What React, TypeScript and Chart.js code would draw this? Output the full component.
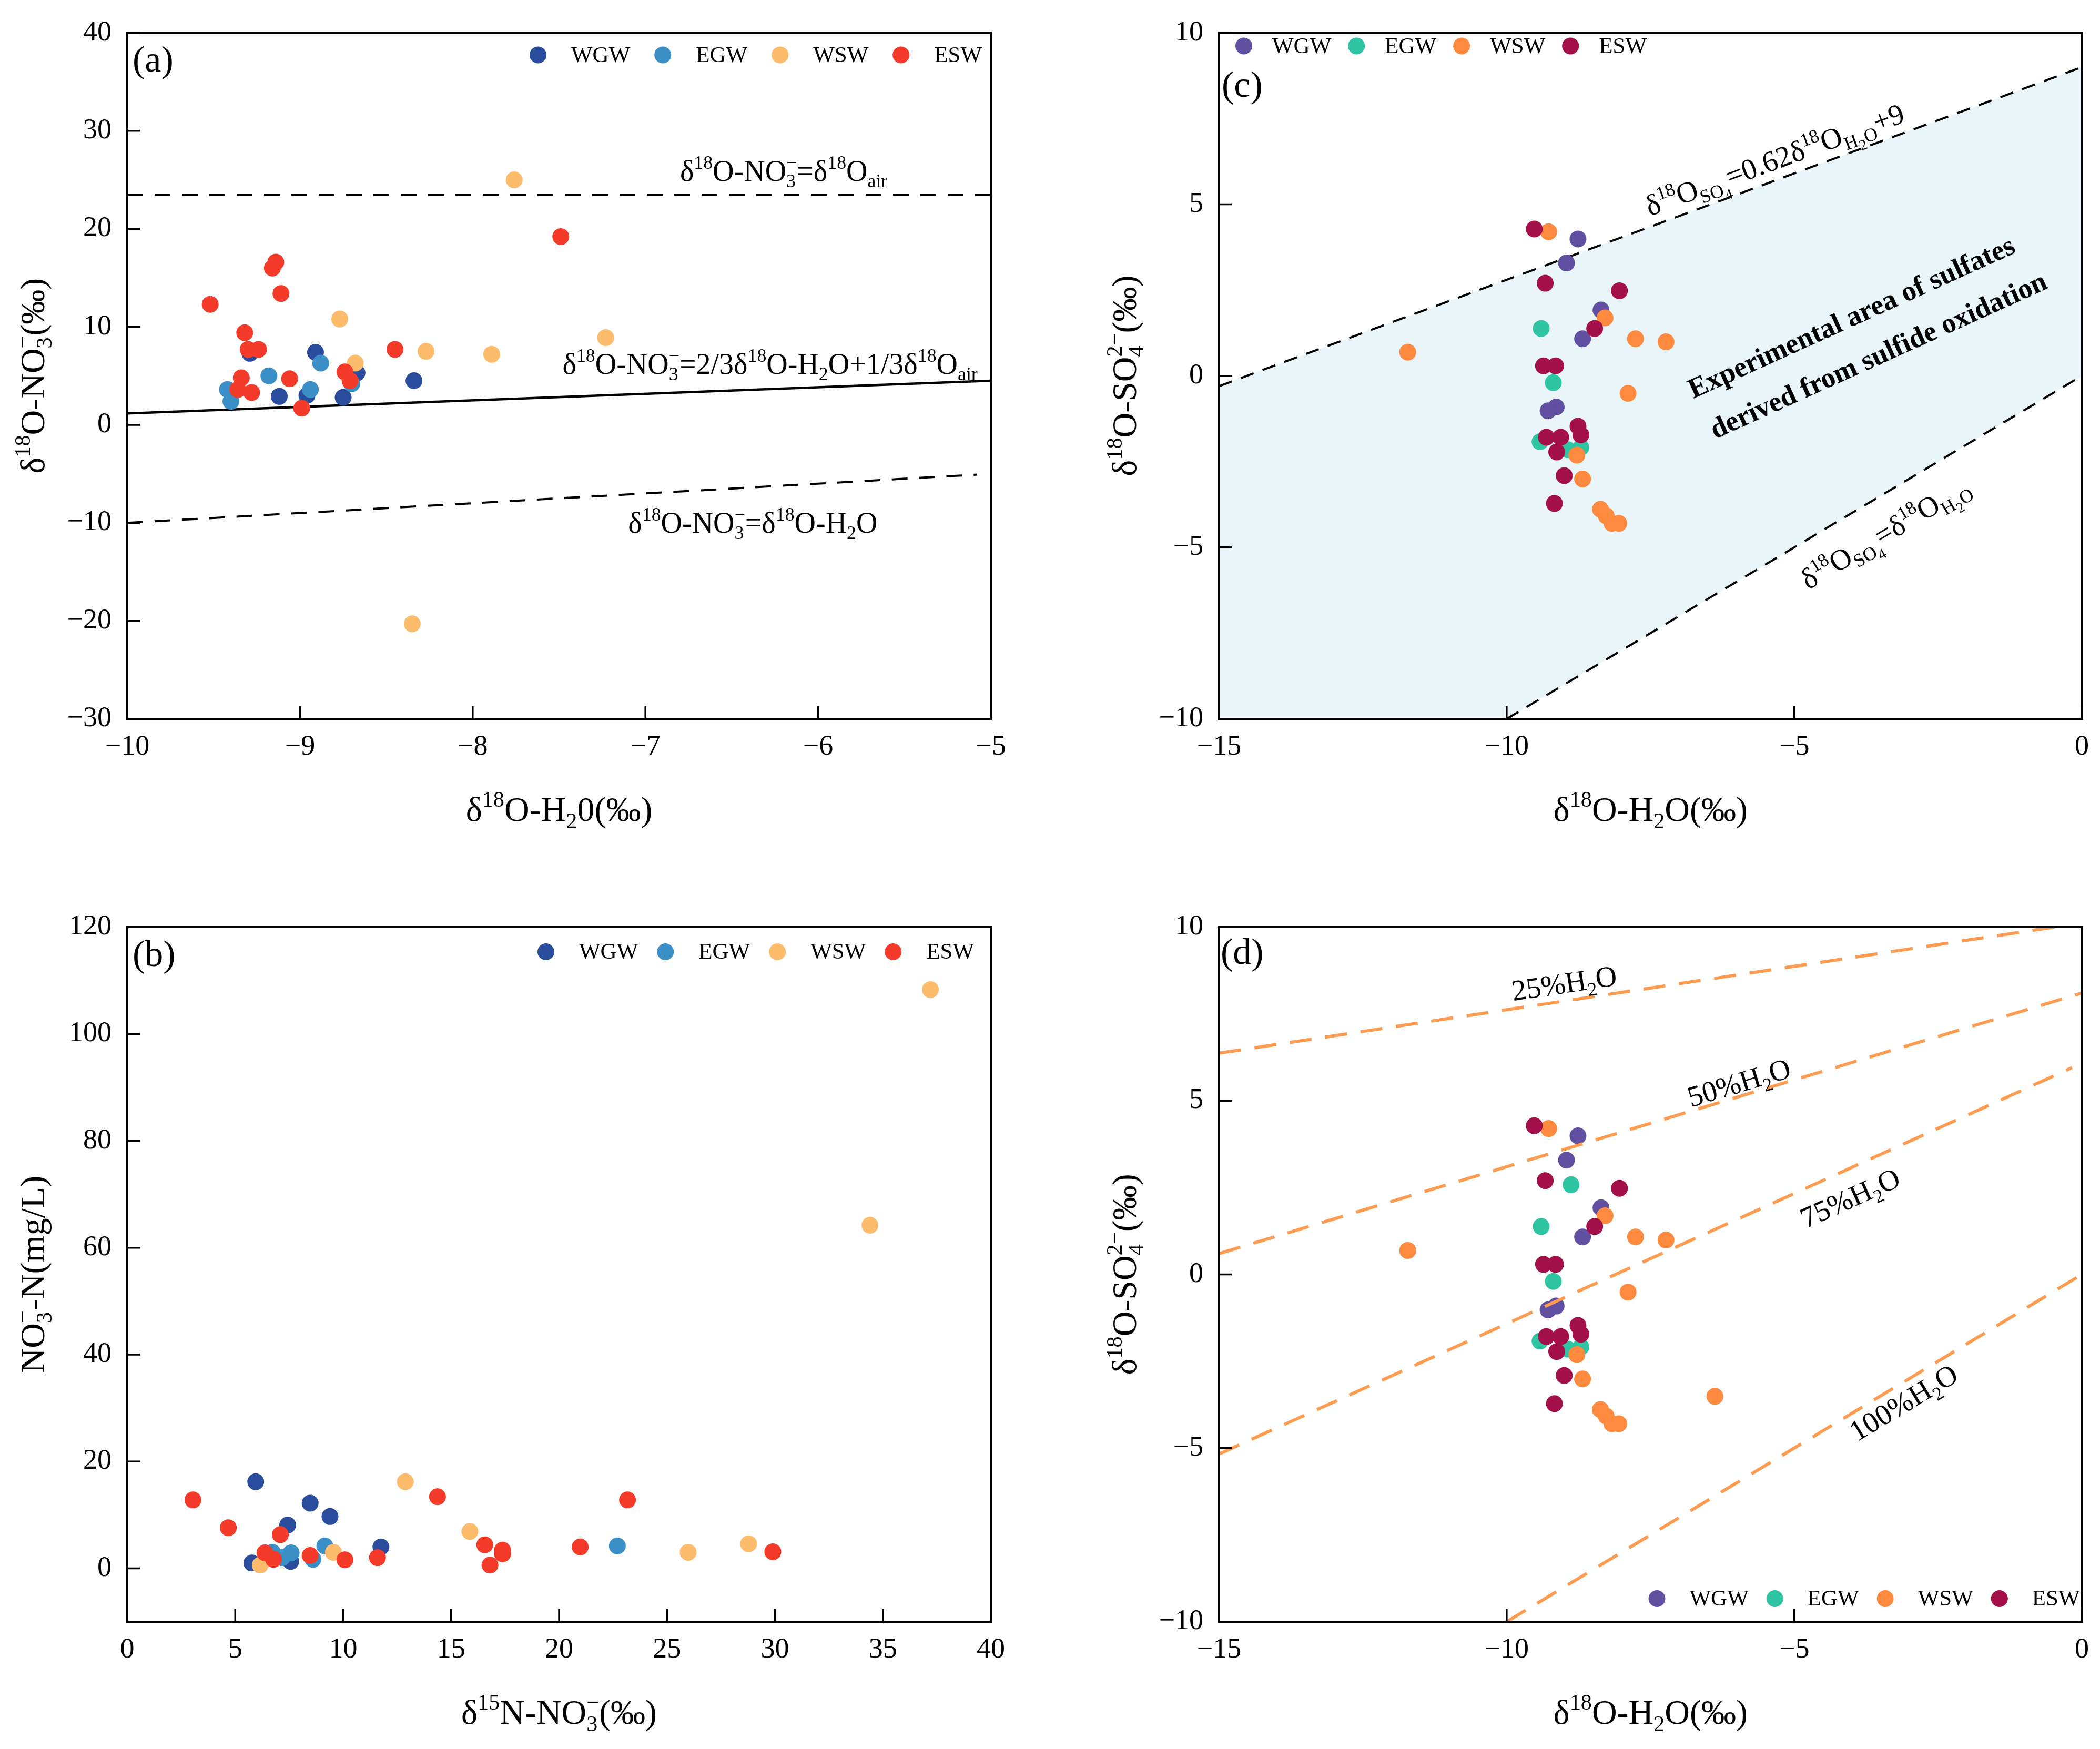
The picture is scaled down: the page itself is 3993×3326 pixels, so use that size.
import React, { useEffect, useRef } from 'react';
import { Chart, registerables } from 'chart.js';

Chart.register(...registerables);

const SERIF = '"Liberation Serif", "Times New Roman", Times, serif';
const TICK_SIZE = 54;
const TITLE_SIZE = 66;
const NOTE_SIZE = 56;
const LEGEND_SIZE = 43;
const LABEL_SIZE = 70;

type Pt = [number, number];

// ---------------- Panel (a): δ18O-H2O vs δ18O-NO3 ----------------
const A_WGW: Pt[] = [[-8.91, 7.4], [-9.29, 7.3], [-9.12, 2.9], [-8.96, 3.0], [-8.75, 2.8], [-8.67, 5.3], [-8.34, 4.5]];
const A_EGW: Pt[] = [[-9.42, 3.6], [-9.4, 2.4], [-9.18, 5.0], [-8.88, 6.3], [-8.94, 3.6], [-8.7, 4.2]];
const A_WSW: Pt[] = [[-7.76, 25.0], [-8.77, 10.8], [-8.68, 6.3], [-8.27, 7.5], [-7.89, 7.2], [-7.23, 8.9], [-8.35, -20.3]];
const A_ESW: Pt[] = [
  [-9.52, 12.3], [-9.14, 16.6], [-9.16, 16.0], [-9.11, 13.4], [-9.32, 9.4], [-9.3, 7.7], [-9.24, 7.7], [-9.34, 4.8],
  [-9.36, 3.6], [-9.28, 3.3], [-9.06, 4.7], [-8.99, 1.7], [-8.74, 5.4], [-8.71, 4.5], [-8.45, 7.7], [-7.49, 19.2],
];
const O_AIR = 23.5;

// ---------------- Panel (b): δ15N-NO3 vs NO3-N ----------------
const B_WGW: Pt[] = [[5.95, 16.2], [8.47, 12.2], [9.39, 9.7], [7.43, 8.1], [11.75, 4.0], [5.77, 1.0], [7.57, 1.3]];
const B_EGW: Pt[] = [[6.72, 3.0], [7.17, 2.0], [7.59, 2.9], [8.6, 1.7], [9.15, 4.2], [22.7, 4.2]];
const B_WSW: Pt[] = [[37.2, 108.3], [34.4, 64.2], [12.88, 16.2], [15.87, 6.9], [6.16, 0.6], [9.55, 3.0], [25.98, 3.0], [28.78, 4.6]];
const B_ESW: Pt[] = [
  [3.04, 12.8], [4.68, 7.6], [7.09, 6.3], [6.38, 2.9], [6.77, 1.7], [8.47, 2.4], [10.08, 1.6], [11.59, 2.0],
  [14.37, 13.4], [16.56, 4.4], [17.38, 3.4], [17.38, 2.7], [16.8, 0.6], [20.98, 4.0], [23.17, 12.8], [29.9, 3.1],
];
const B_Y_TICKS = [0, 20, 40, 60, 80, 100, 120];

// ---------------- Panel (c): δ18O-H2O vs δ18O-SO4 ----------------
const C_WGW: Pt[] = [[-8.76, 3.99], [-8.96, 3.29], [-8.36, 1.92], [-8.68, 1.08], [-9.14, -0.91], [-9.28, -1.02]];
const C_EGW: Pt[] = [[-9.4, 1.38], [-9.19, -0.2], [-9.42, -1.92], [-8.94, -2.15], [-8.71, -2.09]];
const C_WSW: Pt[] = [
  [-9.27, 4.2], [-11.72, 0.69], [-8.29, 1.69], [-7.76, 1.08], [-7.23, 0.99], [-7.89, -0.51],
  [-8.78, -2.31], [-8.68, -3.01], [-8.37, -3.89], [-8.27, -4.08], [-8.17, -4.3], [-8.05, -4.3],
];
const C_ESW: Pt[] = [
  [-9.52, 4.28], [-9.33, 2.7], [-8.04, 2.48], [-8.47, 1.38], [-9.36, 0.29], [-9.15, 0.29], [-8.76, -1.47],
  [-8.71, -1.72], [-9.31, -1.79], [-9.06, -1.79], [-9.13, -2.22], [-9.0, -2.91], [-9.17, -3.72],
];
// sulfate lines: δ18O_SO4 = 0.62 δ18O_H2O + 9 and δ18O_SO4 = δ18O_H2O
const C_UPPER = { m: 0.62, b: 9 };
const C_LOWER = { m: 1, b: 0 };

// ---------------- Panel (d) ----------------
const D_WGW: Pt[] = [[-8.76, 3.99], [-8.96, 3.29], [-8.36, 1.92], [-8.68, 1.08], [-9.14, -0.91], [-9.28, -1.02]];
const D_EGW: Pt[] = [[-9.4, 1.38], [-8.88, 2.58], [-9.19, -0.2], [-9.42, -1.92], [-8.94, -2.15], [-8.71, -2.09]];
const D_WSW: Pt[] = [
  [-9.27, 4.2], [-11.72, 0.69], [-8.29, 1.69], [-7.76, 1.08], [-7.23, 0.99], [-7.89, -0.51],
  [-8.78, -2.31], [-8.68, -3.01], [-8.37, -3.89], [-8.27, -4.08], [-8.17, -4.3], [-8.05, -4.3], [-6.38, -3.51],
];
const D_ESW: Pt[] = [
  [-9.52, 4.28], [-9.33, 2.7], [-8.04, 2.48], [-8.47, 1.38], [-9.36, 0.29], [-9.15, 0.29], [-8.76, -1.47],
  [-8.71, -1.72], [-9.31, -1.79], [-9.06, -1.79], [-9.13, -2.22], [-9.0, -2.91], [-9.17, -3.72],
];
// mixing lines (slope, intercept, x-start, x-end)
const D_MIX_LABELS = ['25%H_{2}O', '50%H_{2}O', '75%H_{2}O', '100%H_{2}O'];
const D_MIX_SLOPES = [0.25, 0.5, 0.75, 1];
const D_MIX_INTERCEPTS = [10.12, 8.1, 6.08, 0];
const D_MIX_XSTART = [-15, -15, -15, -10];
const D_MIX_XEND = [-0.48, 0, -0.17, 0];

const GROUPS = ['WGW', 'EGW', 'WSW', 'ESW'];
const AB_COLORS = ['#2a4c9c', '#3b8fc7', '#fdbb6c', '#f43b2a'];
const CD_COLORS = ['#6150a1', '#2fc4a2', '#fd8a3e', '#a3104a'];
const FILL_COLOR = 'rgb(233,245,249)';
const MIX_COLOR = '#fd9b50';

// ---------------- rich text helpers ----------------
type Seg = { t: string; k: 'n' | 'sup' | 'sub' | 'ss'; sup?: string };

function parseRich(s: string): Seg[] {
  const out: Seg[] = [];
  let buf = '';
  let i = 0;
  const flush = () => {
    if (buf) {
      out.push({ t: buf, k: 'n' });
      buf = '';
    }
  };
  const readGroup = (start: number) => {
    const end = s.indexOf('}', start);
    return { txt: s.slice(start + 1, end), next: end + 1 };
  };
  while (i < s.length) {
    const c = s[i];
    if (c === '_' && s[i + 1] === '_' && s[i + 2] === '{') {
      flush();
      const g = readGroup(i + 2);
      out.push({ t: g.txt, k: 'ss' });
      i = g.next;
    } else if (c === '_' && s[i + 1] === '{') {
      flush();
      const g = readGroup(i + 1);
      const seg: Seg = { t: g.txt, k: 'sub' };
      i = g.next;
      if (s[i] === '^' && s[i + 1] === '{') {
        const g2 = readGroup(i + 1);
        seg.sup = g2.txt;
        i = g2.next;
      }
      out.push(seg);
    } else if (c === '^' && s[i + 1] === '{') {
      flush();
      const g = readGroup(i + 1);
      out.push({ t: g.txt, k: 'sup' });
      i = g.next;
    } else {
      buf += c;
      i++;
    }
  }
  flush();
  return out;
}

const SC = { n: 1, sup: 0.64, sub: 0.64, ss: 0.5 };
const DY = { n: 0, sup: -0.4, sub: 0.22, ss: 0.4 };

function drawRich(
  ctx: CanvasRenderingContext2D,
  text: string,
  x: number,
  y: number,
  size: number,
  opts: { align?: 'left' | 'center' | 'right'; angle?: number; bold?: boolean } = {}
) {
  const segs = parseRich(text);
  const weight = opts.bold ? 'bold ' : '';
  const items: { t: string; x: number; fs: number; dy: number }[] = [];
  let w = 0;
  for (const s of segs) {
    const fs = size * SC[s.k];
    ctx.font = `${weight}${fs}px ${SERIF}`;
    let adv = ctx.measureText(s.t).width;
    items.push({ t: s.t, x: w, fs, dy: DY[s.k] * size });
    if (s.sup) {
      const fs2 = size * SC.sup;
      ctx.font = `${weight}${fs2}px ${SERIF}`;
      adv = Math.max(adv, ctx.measureText(s.sup).width);
      items.push({ t: s.sup, x: w, fs: fs2, dy: DY.sup * size });
    }
    w += adv;
  }
  const align = opts.align || 'left';
  const x0 = align === 'left' ? 0 : align === 'center' ? -w / 2 : -w;
  ctx.save();
  ctx.translate(x, y);
  if (opts.angle) ctx.rotate(opts.angle);
  ctx.fillStyle = '#000';
  ctx.textAlign = 'left';
  ctx.textBaseline = 'alphabetic';
  const base = size * 0.33;
  for (const it of items) {
    ctx.font = `${weight}${it.fs}px ${SERIF}`;
    ctx.fillText(it.t, x0 + it.x, base + it.dy);
  }
  ctx.restore();
}

// ---------------- decoration plugin ----------------
interface Note {
  text: string;
  x: number;
  y: number;
  align?: 'left' | 'center' | 'right';
  slope?: number;
  bold?: boolean;
  size?: number;
}
interface Decor {
  label: string;
  labelDx: number;
  labelBase: number;
  xTitle: string;
  yTitle: string;
  legend: { corner: 'tr' | 'tl' | 'br'; dx: number; dy: number; g1: number; g2: number; colors: string[] };
  notes: Note[];
}

function decorPlugin(d: Decor) {
  return {
    id: 'decor',
    afterDraw(chart: any) {
      const ctx: CanvasRenderingContext2D = chart.ctx;
      const a = chart.chartArea;
      const xs = chart.scales.x;
      const ys = chart.scales.y;
      ctx.save();
      // inner ticks
      ctx.strokeStyle = '#000';
      ctx.lineWidth = 3.5;
      ctx.beginPath();
      for (const t of xs.ticks) {
        const px = xs.getPixelForValue(t.value);
        ctx.moveTo(px, a.bottom);
        ctx.lineTo(px, a.bottom - 24);
      }
      for (const t of ys.ticks) {
        const py = ys.getPixelForValue(t.value);
        ctx.moveTo(a.left, py);
        ctx.lineTo(a.left + 24, py);
      }
      ctx.stroke();
      // frame
      ctx.lineWidth = 4;
      ctx.strokeRect(a.left, a.top, a.right - a.left, a.bottom - a.top);

      // panel label
      ctx.fillStyle = '#000';
      ctx.font = `${LABEL_SIZE}px ${SERIF}`;
      ctx.textAlign = 'left';
      ctx.textBaseline = 'alphabetic';
      ctx.fillText(d.label, a.left + d.labelDx, a.top + d.labelBase);

      // axis titles
      drawRich(ctx, d.xTitle, (a.left + a.right) / 2, a.bottom + 172, TITLE_SIZE, { align: 'center' });
      drawRich(ctx, d.yTitle, a.left - 180, (a.top + a.bottom) / 2, TITLE_SIZE, { align: 'center', angle: -Math.PI / 2 });

      // notes
      const ux = xs.getPixelForValue(1) - xs.getPixelForValue(0);
      const uy = ys.getPixelForValue(0) - ys.getPixelForValue(1);
      for (const n of d.notes) {
        const angle = n.slope ? -Math.atan((n.slope * uy) / ux) : 0;
        drawRich(ctx, n.text, xs.getPixelForValue(n.x), ys.getPixelForValue(n.y), n.size || NOTE_SIZE, {
          align: n.align || 'center',
          angle,
          bold: n.bold,
        });
      }

      // legend
      const L = d.legend;
      ctx.font = `${LEGEND_SIZE}px ${SERIF}`;
      const widths = GROUPS.map((g) => ctx.measureText(g).width);
      const total = widths.reduce((s, w) => s + L.g1 + w, 0) + L.g2 * (GROUPS.length - 1);
      let mx = L.corner === 'tl' ? a.left + L.dx : a.right - L.dx - total;
      const my = L.corner === 'br' ? a.bottom - L.dy : a.top + L.dy;
      ctx.textBaseline = 'middle';
      GROUPS.forEach((g, i) => {
        ctx.fillStyle = L.colors[i];
        ctx.beginPath();
        ctx.arc(mx, my, 16, 0, Math.PI * 2);
        ctx.fill();
        ctx.fillStyle = '#000';
        ctx.font = `${LEGEND_SIZE}px ${SERIF}`;
        ctx.fillText(g, mx + L.g1, my + 2);
        mx += L.g1 + widths[i] + L.g2;
      });
      ctx.restore();
    },
  };
}

// ---------------- dataset helpers ----------------
const pts = (arr: Pt[]) => arr.map(([x, y]) => ({ x, y }));
const lineOf = (m: number, b: number, x0: number, x1: number): Pt[] => [
  [x0, m * x0 + b],
  [x1, m * x1 + b],
];

// later groups are drawn on top (lower order = drawn later in Chart.js)
function scatterSet(label: string, data: Pt[], color: string, idx: number) {
  return {
    label,
    data: pts(data),
    backgroundColor: color,
    borderColor: color,
    pointRadius: 16,
    pointBorderWidth: 0,
    borderWidth: 0,
    showLine: false,
    order: 4 - idx,
  };
}

function lineSet(data: Pt[], color: string, width: number, dash: number[], extra: any = {}) {
  return {
    data: pts(data),
    showLine: true,
    borderColor: color,
    borderWidth: width,
    borderDash: dash,
    pointRadius: 0,
    fill: false,
    tension: 0,
    order: 10,
    ...extra,
  };
}

interface PanelSpec {
  left: number;
  top: number;
  w: number;
  h: number;
  yW: number;
  xH: number;
  padTop: number;
  padRight: number;
  x: [number, number, number];
  y: [number, number, number];
  yTicks?: number[];
  datasets: any[];
  decor: Decor;
}

const HALF_W = 1996;
const HALF_H = 1663;

const groupSets = (series: Pt[][], colors: string[]) => series.map((s, i) => scatterSet(GROUPS[i], s, colors[i], i));

const PANELS: PanelSpec[] = [
  {
    left: 0,
    top: 0,
    w: HALF_W,
    h: HALF_H,
    yW: 242,
    xH: 296,
    padTop: 46,
    padRight: 112,
    x: [-10, -5, 1],
    y: [-30, 40, 10],
    datasets: [
      ...groupSets([A_WGW, A_EGW, A_WSW, A_ESW], AB_COLORS),
      lineSet(lineOf(0, O_AIR, -10, -5), '#000', 4, [30, 22]),
      lineSet(lineOf(2 / 3, O_AIR / 3, -10, -5), '#000', 4.5, []),
      lineSet(lineOf(1, 0, -10, -5.08), '#000', 4, [30, 22]),
    ],
    decor: {
      label: '(a)',
      labelDx: 10,
      labelBase: 74,
      xTitle: 'δ^{18}O-H_{2}0(‰)',
      yTitle: 'δ^{18}O-NO_{3}^{−}(‰)',
      legend: { corner: 'tr', dx: 17, dy: 42, g1: 63, g2: 62, colors: AB_COLORS },
      notes: [
        { text: 'δ^{18}O-NO_{3}^{−}=δ^{18}O_{air}', x: -6.8, y: 25.9, align: 'left' },
        { text: 'δ^{18}O-NO_{3}^{−}=2/3δ^{18}O-H_{2}O+1/3δ^{18}O_{air}', x: -7.48, y: 6.2, align: 'left' },
        { text: 'δ^{18}O-NO_{3}^{−}=δ^{18}O-H_{2}O', x: -7.1, y: -10.0, align: 'left' },
      ],
    },
  },
  {
    left: HALF_W,
    top: 0,
    w: 3993 - HALF_W,
    h: HALF_H,
    yW: 322,
    xH: 296,
    padTop: 46,
    padRight: 34,
    x: [-15, 0, 5],
    y: [-10, 10, 5],
    datasets: [
      ...groupSets([C_WGW, C_EGW, C_WSW, C_ESW], CD_COLORS),
      lineSet(
        [lineOf(C_UPPER.m, C_UPPER.b, -15, -10)[0], lineOf(C_UPPER.m, C_UPPER.b, -10, 0)[0], lineOf(C_UPPER.m, C_UPPER.b, -10, 0)[1]],
        '#000',
        4,
        [26, 18],
        { fill: '+1', backgroundColor: FILL_COLOR, order: 11 }
      ),
      lineSet(
        [[-15, -10], lineOf(C_LOWER.m, C_LOWER.b, -10, 0)[0], lineOf(C_LOWER.m, C_LOWER.b, -10, 0)[1]],
        'rgba(0,0,0,0)',
        0,
        [],
        { order: 12 }
      ),
      lineSet(lineOf(C_LOWER.m, C_LOWER.b, -10, 0), '#000', 4, [26, 18]),
    ],
    decor: {
      label: '(c)',
      labelDx: 5,
      labelBase: 122,
      xTitle: 'δ^{18}O-H_{2}O(‰)',
      yTitle: 'δ^{18}O-SO_{4}^{2−}(‰)',
      legend: { corner: 'tl', dx: 47, dy: 25, g1: 54, g2: 48, colors: CD_COLORS },
      notes: [
        { text: 'δ^{18}O_{SO}__{4}=0.62δ^{18}O_{H}__{2}_{O}+9', x: -5.34, y: 6.3, slope: 0.62 },
        { text: 'Experimental area of sulfates', x: -4.01, y: 1.72, slope: 0.76, bold: true, size: 54 },
        { text: 'derived from sulfide oxidation', x: -3.54, y: 0.61, slope: 0.76, bold: true, size: 54 },
        { text: 'δ^{18}O_{SO}__{4}=δ^{18}O_{H}__{2}_{O}', x: -3.42, y: -4.58, slope: 1 },
      ],
    },
  },
  {
    left: 0,
    top: HALF_H,
    w: HALF_W,
    h: 3326 - HALF_H,
    yW: 242,
    xH: 242,
    padTop: 100,
    padRight: 112,
    x: [0, 40, 5],
    y: [-10, 120, 20],
    yTicks: B_Y_TICKS,
    datasets: groupSets([B_WGW, B_EGW, B_WSW, B_ESW], AB_COLORS),
    decor: {
      label: '(b)',
      labelDx: 10,
      labelBase: 74,
      xTitle: 'δ^{15}N-NO_{3}^{−}(‰)',
      yTitle: 'NO_{3}^{−}-N(mg/L)',
      legend: { corner: 'tr', dx: 32, dy: 47, g1: 63, g2: 52, colors: AB_COLORS },
      notes: [],
    },
  },
  {
    left: HALF_W,
    top: HALF_H,
    w: 3993 - HALF_W,
    h: 3326 - HALF_H,
    yW: 322,
    xH: 242,
    padTop: 100,
    padRight: 34,
    x: [-15, 0, 5],
    y: [-10, 10, 5],
    datasets: [
      ...groupSets([D_WGW, D_EGW, D_WSW, D_ESW], CD_COLORS),
      ...D_MIX_SLOPES.map((m, i) =>
        lineSet(lineOf(m, D_MIX_INTERCEPTS[i], D_MIX_XSTART[i], D_MIX_XEND[i]), MIX_COLOR, 6, [42, 26], { order: -1 })
      ),
    ],
    decor: {
      label: '(d)',
      labelDx: 3,
      labelBase: 70,
      xTitle: 'δ^{18}O-H_{2}O(‰)',
      yTitle: 'δ^{18}O-SO_{4}^{2−}(‰)',
      legend: { corner: 'br', dx: 4, dy: 44, g1: 62, g2: 50, colors: CD_COLORS },
      notes: [
        { text: D_MIX_LABELS[0], x: -9.0, y: 8.38, slope: D_MIX_SLOPES[0] },
        { text: D_MIX_LABELS[1], x: -5.96, y: 5.52, slope: D_MIX_SLOPES[1] },
        { text: D_MIX_LABELS[2], x: -4.03, y: 2.2, slope: D_MIX_SLOPES[2] },
        { text: D_MIX_LABELS[3], x: -3.1, y: -3.69, slope: D_MIX_SLOPES[3] },
      ],
    },
  },
];

function buildConfig(p: PanelSpec): any {
  const tickFont = { family: SERIF, size: TICK_SIZE };
  const fmt = (v: any) => {
    const n = Number(v);
    return n < 0 ? '\u2212' + Math.abs(n) : String(n);
  };
  const yScale: any = {
    type: 'linear',
    position: 'left',
    min: p.y[0],
    max: p.y[1],
    ticks: { stepSize: p.y[2], font: tickFont, color: '#000', padding: 30, autoSkip: false, callback: fmt },
    grid: { display: false, drawTicks: false },
    border: { display: false },
    afterFit: (s: any) => {
      s.width = p.yW;
    },
  };
  if (p.yTicks) {
    yScale.afterBuildTicks = (s: any) => {
      s.ticks = p.yTicks!.map((v) => ({ value: v }));
    };
  }
  return {
    type: 'scatter',
    data: { datasets: p.datasets },
    options: {
      animation: false,
      responsive: false,
      maintainAspectRatio: false,
      devicePixelRatio: 1,
      events: [],
      layout: { padding: { top: p.padTop, right: p.padRight, left: 0, bottom: 0 } },
      plugins: {
        legend: { display: false },
        tooltip: { enabled: false },
        title: { display: false },
        filler: { drawTime: 'beforeDatasetsDraw' },
      },
      scales: {
        x: {
          type: 'linear',
          position: 'bottom',
          min: p.x[0],
          max: p.x[1],
          ticks: { stepSize: p.x[2], font: tickFont, color: '#000', padding: 21, maxRotation: 0, autoSkip: false, callback: fmt },
          grid: { display: false, drawTicks: false },
          border: { display: false },
          afterFit: (s: any) => {
            s.height = p.xH;
          },
        },
        y: yScale,
      },
    },
    plugins: [decorPlugin(p.decor)],
  };
}

function Panel({ spec }: { spec: PanelSpec }) {
  const ref = useRef<HTMLCanvasElement>(null);
  useEffect(() => {
    if (!ref.current) return;
    const chart = new Chart(ref.current, buildConfig(spec));
    return () => chart.destroy();
  }, [spec]);
  return (
    <canvas
      ref={ref}
      width={spec.w}
      height={spec.h}
      style={{ position: 'absolute', left: spec.left, top: spec.top, width: spec.w, height: spec.h }}
    />
  );
}

export default function App() {
  return (
    <div style={{ position: 'absolute', left: 0, top: 0, width: 3993, height: 3326, background: '#fff' }}>
      {PANELS.map((p, i) => (
        <Panel key={i} spec={p} />
      ))}
    </div>
  );
}
